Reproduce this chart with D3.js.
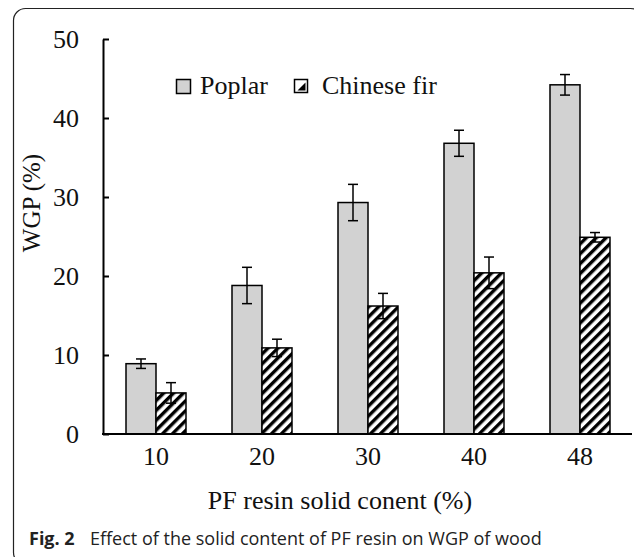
<!DOCTYPE html>
<html>
<head>
<meta charset="utf-8">
<script src="https://cdn.jsdelivr.net/npm/d3@7"></script>
<style>
  body { margin: 0; background: #fff; }
  svg { display: block; }
</style>
</head>
<body>
<svg width="634" height="557"></svg>
<script>
// data
const categories = ["10", "20", "30", "40", "48"];
const seriesNames = ["Poplar", "Chinese fir"];
const poplar = [8.9, 18.8, 29.3, 36.8, 44.2];
const poplarErr = [0.6, 2.3, 2.3, 1.65, 1.3];
const fir = [5.2, 10.9, 16.2, 20.4, 24.9];
const firErr = [1.3, 1.1, 1.6, 2.0, 0.6];
const yTicks = [0, 10, 20, 30, 40, 50];

const serif = "'Liberation Serif', 'Times New Roman', serif";
const fs = 26;
const svg = d3.select("svg");

function label(px, py, str, anchor) {
  return svg.append("text")
    .attr("x", px).attr("y", py)
    .attr("text-anchor", anchor || "start")
    .attr("font-family", serif).attr("font-size", fs).attr("fill", "#111")
    .text(str);
}

// rounded frame around figure + caption
svg.append("rect")
  .attr("x", 13.5).attr("y", 8.5)
  .attr("width", 629).attr("height", 556)
  .attr("rx", 12)
  .attr("fill", "none")
  .attr("stroke", "#222")
  .attr("stroke-width", 1.2);

// hatch for Chinese fir
const defs = svg.append("defs");
defs.append("pattern")
  .attr("id", "hatch")
  .attr("patternUnits", "userSpaceOnUse")
  .attr("width", 7).attr("height", 7)
  .attr("patternTransform", "rotate(45)")
  .call(p => {
    p.append("rect").attr("width", 7).attr("height", 7).attr("fill", "#fff");
    p.append("rect").attr("width", 3.4).attr("height", 7).attr("fill", "#000");
  });

const x = d3.scaleBand()
  .domain(categories)
  .range([103, 633])
  .paddingInner(0.434)
  .paddingOuter(0.217);

const xSub = d3.scaleBand()
  .domain(seriesNames)
  .range([0, x.bandwidth()]);

const y = d3.scaleLinear()
  .domain([0, 50])
  .range([434, 39]);

const rows = categories.map((c, i) => [
  { cat: c, key: "Poplar", v: poplar[i], e: poplarErr[i] },
  { cat: c, key: "Chinese fir", v: fir[i], e: firErr[i] }
]).flat();

// bars
svg.append("g")
  .selectAll("rect")
  .data(rows)
  .join("rect")
  .attr("x", d => x(d.cat) + xSub(d.key))
  .attr("y", d => y(d.v))
  .attr("width", xSub.bandwidth())
  .attr("height", d => y(0) - y(d.v))
  .attr("fill", d => d.key === "Poplar" ? "#d2d2d2" : "url(#hatch)")
  .attr("stroke", "#000")
  .attr("stroke-width", 1.5);

// error bars
const eb = svg.append("g")
  .attr("stroke", "#000")
  .attr("stroke-width", 1.5)
  .selectAll("g")
  .data(rows)
  .join("g")
  .attr("transform", d => `translate(${x(d.cat) + xSub(d.key) + xSub.bandwidth() / 2},0)`);
eb.append("line")
  .attr("y1", d => y(d.v + d.e)).attr("y2", d => y(d.v - d.e));
eb.append("line")
  .attr("x1", -5).attr("x2", 5)
  .attr("y1", d => y(d.v + d.e)).attr("y2", d => y(d.v + d.e));
eb.append("line")
  .attr("x1", -5).attr("x2", 5)
  .attr("y1", d => y(d.v - d.e)).attr("y2", d => y(d.v - d.e));

// y axis, ticks pointing inward
const yAxis = svg.append("g")
  .attr("transform", "translate(103,0)")
  .call(d3.axisLeft(y).tickValues(yTicks).tickSizeInner(-6).tickSizeOuter(0).tickPadding(24));
yAxis.select(".domain").attr("stroke-width", 2);
yAxis.selectAll(".tick line").attr("stroke-width", 2);
yAxis.selectAll("text")
  .attr("font-family", serif).attr("font-size", fs).attr("fill", "#111");

// x axis
const xAxis = svg.append("g")
  .attr("transform", `translate(0,${y(0)})`)
  .call(d3.axisBottom(x).tickSize(0).tickPadding(12.5));
xAxis.select(".domain").attr("d", "M102,0H632").attr("stroke-width", 2);
xAxis.selectAll("text")
  .attr("font-family", serif).attr("font-size", fs).attr("fill", "#111");

// axis titles
svg.append("text")
  .attr("transform", "translate(40,203) rotate(-90)")
  .attr("text-anchor", "middle")
  .attr("font-family", serif).attr("font-size", 25).attr("fill", "#111")
  .text("WGP (%)");
label(340, 509, "PF resin solid conent (%)", "middle");

// legend
const legend = svg.append("g");
legend.append("rect")
  .attr("x", 176.5).attr("y", 79.5).attr("width", 14).attr("height", 14)
  .attr("fill", "#d2d2d2").attr("stroke", "#000").attr("stroke-width", 1.5);
label(200, 94, seriesNames[0]);
legend.append("rect")
  .attr("x", 294.5).attr("y", 79.5).attr("width", 13).attr("height", 13)
  .attr("fill", "#fff").attr("stroke", "#000").attr("stroke-width", 1.5);
legend.append("path")
  .attr("d", "M305.5,82.5 L305.5,90.5 L297.5,90.5 Z")
  .attr("fill", "#000");
label(322, 94, seriesNames[1]);

// caption
const cap = svg.append("text")
  .attr("x", 29).attr("y", 545)
  .attr("font-family", "'Open Sans', 'Noto Sans', sans-serif")
  .attr("font-size", 18).attr("fill", "#222");
cap.append("tspan").attr("font-weight", "bold").text("Fig. 2");
cap.append("tspan").attr("x", 90).text("Effect of the solid content of PF resin on WGP of wood");
</script>
</body>
</html>
